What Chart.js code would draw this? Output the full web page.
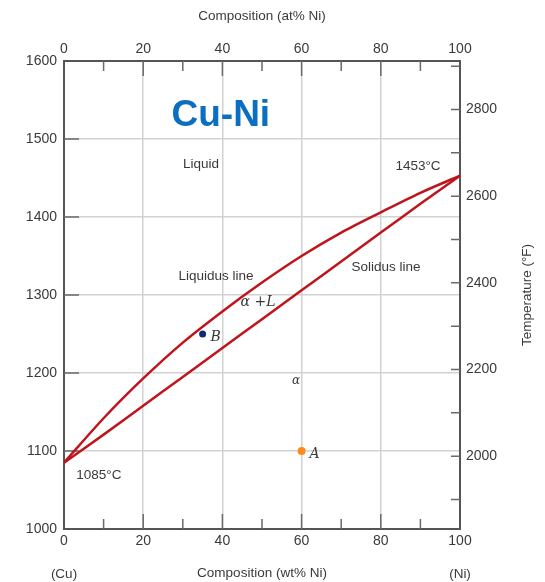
<!DOCTYPE html>
<html>
<head>
<meta charset="utf-8">
<title>Cu-Ni</title>
<script src="https://cdn.jsdelivr.net/npm/chart.js@4"></script>
<style>
  html, body { margin: 0; padding: 0; background: #fff; }
  canvas { display: block; }
</style>
</head>
<body>
<canvas id="phaseChart" width="545" height="582"></canvas>
<script>
  'use strict';

  // composition (wt% Ni) and the two phase boundaries (deg C)
  var composition = [0, 10, 20, 30, 40, 50, 60, 70, 80, 90, 100];
  var liquidus = [1085, 1142, 1193, 1239, 1279, 1316, 1350, 1380, 1406, 1431, 1453];
  var solidus  = [1085, 1121, 1158, 1195, 1232, 1269, 1306, 1343, 1380, 1417, 1453];

  // alloys marked on the diagram
  var pointNames = ['A', 'B'];
  var pointComp  = [60, 35];
  var pointTemp  = [1100, 1250];
  var pointColors = ['#ff8a1c', '#0d2a78'];

  // axis ticks
  var compTicks = [0, 10, 20, 30, 40, 50, 60, 70, 80, 90, 100];
  var tempTicksF = [1900, 2000, 2100, 2200, 2300, 2400, 2500, 2600, 2700, 2800, 2900];
  var tempLabelsF = [2000, 2200, 2400, 2600, 2800];

  var textColor = '#3a3a3a';
  var fontFamily = '"Liberation Sans", Arial, sans-serif';

  // text placed inside the plot, in data units
  var regionLabels = [
    { text: 'Liquid', x: 34.6, y: 1467 },
    { text: '1453\u00b0C', x: 89.4, y: 1465 },
    { text: 'Liquidus line', x: 38.4, y: 1324 },
    { text: 'Solidus line', x: 81.3, y: 1335 },
    { text: '1085\u00b0C', x: 8.8, y: 1069 },
    { text: '\u03b1 +L', x: 49, y: 1291, italic: true },
    { text: '\u03b1', x: 58.6, y: 1190, italic: true, size: 12 }
  ];

  function toF(c) { return c * 9 / 5 + 32; }

  function pairs(xs, ys) {
    return xs.map(function (v, i) { return { x: v, y: ys[i] }; });
  }

  var datasets = [
    {
      label: 'Liquidus',
      data: pairs(composition, liquidus),
      showLine: true,
      borderColor: '#c0141c',
      borderWidth: 2.5,
      pointRadius: 0,
      tension: 0.3,
      fill: false
    },
    {
      label: 'Solidus',
      data: pairs(composition, solidus),
      showLine: true,
      borderColor: '#c0141c',
      borderWidth: 2.5,
      pointRadius: 0,
      tension: 0.3,
      fill: false
    }
  ];
  pointNames.forEach(function (name, i) {
    datasets.push({
      label: name,
      data: [{ x: pointComp[i], y: pointTemp[i] }],
      pointRadius: i === 0 ? 4 : 3.5,
      pointBackgroundColor: pointColors[i],
      pointBorderWidth: 0,
      showLine: false
    });
  });

  function fixSize(prop, v) {
    return function (scale) { scale[prop] = v; };
  }

  function plain(v) {
    return String(v);
  }

  var decorations = {
    id: 'decorations',
    beforeDatasetsDraw: function (chart) {
      var ctx = chart.ctx, a = chart.chartArea;
      var sx = chart.scales.x, sx2 = chart.scales.x2, sy = chart.scales.y, sy2 = chart.scales.y2;
      ctx.save();
      ctx.strokeStyle = '#6a6a6a';
      ctx.lineWidth = 1.5;
      ctx.beginPath();
      compTicks.forEach(function (v) {
        if (v === 0 || v === 100) return;
        var len = v % 20 === 0 ? 15 : 10;
        var px = sx.getPixelForValue(v);
        ctx.moveTo(px, a.bottom);
        ctx.lineTo(px, a.bottom - len);
        var px2 = sx2.getPixelForValue(v);
        ctx.moveTo(px2, a.top);
        ctx.lineTo(px2, a.top + len);
      });
      sy.ticks.forEach(function (t) {
        if (t.value <= 1000 || t.value >= 1600) return;
        var py = sy.getPixelForValue(t.value);
        ctx.moveTo(a.left, py);
        ctx.lineTo(a.left + 15, py);
      });
      tempTicksF.forEach(function (f) {
        var py = sy2.getPixelForValue(f);
        ctx.moveTo(a.right, py);
        ctx.lineTo(a.right - 9, py);
      });
      ctx.stroke();
      ctx.restore();
    },
    afterDatasetsDraw: function (chart) {
      var ctx = chart.ctx;
      var sx = chart.scales.x, sy = chart.scales.y;
      ctx.save();
      ctx.fillStyle = textColor;
      ctx.textAlign = 'center';
      ctx.textBaseline = 'middle';

      regionLabels.forEach(function (l) {
        ctx.font = l.italic
          ? 'italic ' + (l.size || 14) + 'px "DejaVu Serif", "Liberation Serif", serif'
          : '13.5px ' + fontFamily;
        ctx.fillText(l.text, sx.getPixelForValue(l.x), sy.getPixelForValue(l.y));
      });

      // letters beside the marked alloys
      ctx.font = 'italic 14px "DejaVu Serif", "Liberation Serif", serif';
      pointNames.forEach(function (name, i) {
        ctx.fillText(name, sx.getPixelForValue(pointComp[i]) + 13, sy.getPixelForValue(pointTemp[i]) + 3);
      });

      // system name
      ctx.fillStyle = '#0a6fc0';
      ctx.font = 'bold 37px ' + fontFamily;
      ctx.fillText('Cu-Ni', sx.getPixelForValue(39.6), sy.getPixelForValue(1530));

      // end members under the composition axis
      ctx.fillStyle = textColor;
      ctx.font = '13.5px ' + fontFamily;
      ctx.fillText('(Cu)', sx.getPixelForValue(0), chart.height - 8);
      ctx.fillText('(Ni)', sx.getPixelForValue(100), chart.height - 8);

      // Fahrenheit axis title, read bottom to top
      ctx.translate(chart.width - 18, (chart.chartArea.top + chart.chartArea.bottom) / 2);
      ctx.rotate(-Math.PI / 2);
      ctx.fillText('Temperature (\u00b0F)', 0, 0);
      ctx.restore();
    }
  };

  var axisBorder = { display: true, color: '#555', width: 2 };
  var tickFont = { family: fontFamily, size: 14 };
  var titleFont = { family: fontFamily, size: 13.5 };

  new Chart(document.getElementById('phaseChart').getContext('2d'), {
    type: 'scatter',
    data: { datasets: datasets },
    options: {
      responsive: false,
      devicePixelRatio: 1,
      animation: false,
      layout: { padding: 0 },
      plugins: {
        legend: { display: false },
        tooltip: { enabled: false }
      },
      scales: {
        x: {
          type: 'linear',
          position: 'bottom',
          min: 0,
          max: 100,
          afterFit: fixSize('height', 53),
          ticks: { stepSize: 20, padding: 4, color: textColor, font: tickFont, callback: plain },
          grid: { color: '#d2d2d2', lineWidth: 1.5, drawTicks: false },
          border: axisBorder,
          title: {
            display: true,
            text: 'Composition (wt% Ni)',
            color: textColor,
            font: titleFont,
            padding: { top: 0, bottom: 1 }
          }
        },
        x2: {
          type: 'linear',
          position: 'top',
          min: 0,
          max: 100,
          afterFit: fixSize('height', 61),
          ticks: { stepSize: 20, padding: 3, color: textColor, font: tickFont, callback: plain },
          grid: { drawOnChartArea: false, drawTicks: false },
          border: axisBorder,
          title: {
            display: true,
            text: 'Composition (at% Ni)',
            color: textColor,
            font: titleFont,
            padding: { top: 8, bottom: 0 }
          }
        },
        y: {
          type: 'linear',
          position: 'left',
          min: 1000,
          max: 1600,
          afterFit: fixSize('width', 64),
          ticks: { stepSize: 100, padding: 7, color: textColor, font: tickFont, callback: plain },
          grid: { color: '#d2d2d2', lineWidth: 1.5, drawTicks: false },
          border: axisBorder
        },
        y2: {
          type: 'linear',
          position: 'right',
          min: toF(1000),
          max: toF(1600),
          afterFit: fixSize('width', 85),
          afterBuildTicks: function (scale) {
            scale.ticks = tempTicksF.map(function (v) { return { value: v }; });
          },
          ticks: {
            padding: 6,
            color: textColor,
            font: tickFont,
            callback: function (v) {
              return tempLabelsF.indexOf(v) >= 0 ? String(v) : '';
            }
          },
          grid: { drawOnChartArea: false, drawTicks: false },
          border: axisBorder
        }
      }
    },
    plugins: [decorations]
  });
</script>
</body>
</html>
